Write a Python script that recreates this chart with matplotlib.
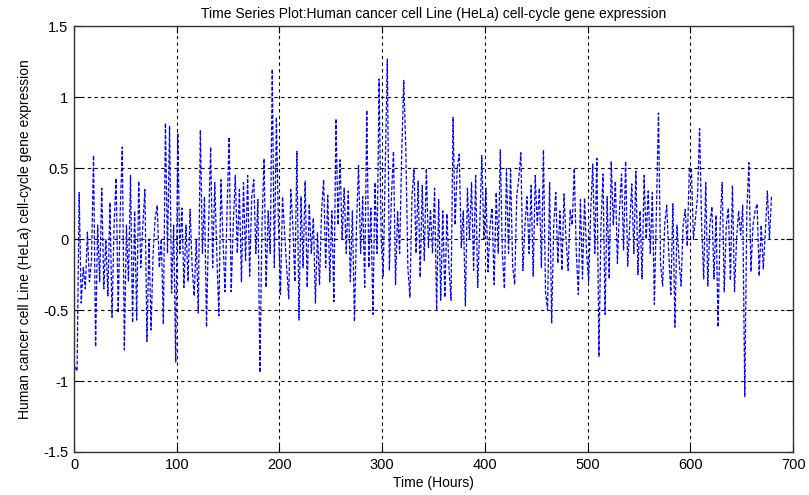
import matplotlib
matplotlib.use("Agg")
import matplotlib.pyplot as plt
from matplotlib.ticker import FuncFormatter

plt.rcParams["font.family"] = ["Liberation Sans", "DejaVu Sans"]

# sampled every 2 hours, starting at hour 1
start_hour = 1
step_hours = 2
expression = [
    -0.9, -0.93, 0.33, -0.45, -0.2, -0.35, 0.05, -0.3, -0.15, 0.59,
    -0.76, 0.1, -0.3, 0.36, -0.35, 0.0, -0.4, 0.26, -0.55, 0.1,
    0.43, -0.52, 0.2, 0.65, -0.78, 0.1, -0.3, 0.45, -0.59, 0.2,
    -0.57, 0.41, -0.2, 0.1, 0.35, -0.72, 0.0, -0.64, -0.1, 0.15,
    0.24, -0.2, 0.0, -0.6, 0.82, -0.1, 0.80, -0.38, 0.1, -0.87,
    0.75, -0.1, 0.22, -0.34, 0.1, -0.3, 0.21, -0.2, -0.4, 0.0,
    -0.52, 0.77, -0.1, 0.3, -0.62, 0.1, 0.65, -0.2, 0.4, -0.1,
    -0.54, 0.42, 0.0, -0.37, 0.2, 0.72, -0.37, 0.1, 0.45, -0.1,
    0.35, -0.3, 0.4, -0.15, 0.45, -0.26, 0.3, 0.42, -0.1, 0.28,
    -0.94, 0.1, 0.57, -0.34, 0.2, -0.1, 1.20, -0.2, 0.86, 0.1,
    -0.39, 0.3, 0.05, -0.2, -0.42, 0.35, 0.1, -0.3, 0.62, -0.57,
    0.3, -0.2, 0.41, -0.34, 0.25, -0.1, 0.15, -0.45, 0.05, -0.32,
    0.2, 0.42, -0.2, 0.31, -0.30, 0.2, -0.44, 0.85, 0.1, 0.56,
    0.0, 0.36, -0.1, 0.34, -0.30, 0.2, -0.58, 0.1, 0.52, -0.1,
    0.3, -0.34, 0.91, -0.2, 0.22, -0.53, 0.4, -0.1, 1.13, 0.0,
    -0.26, 0.5, 1.27, -0.22, 0.3, 0.62, -0.32, 0.2, -0.1, 0.6,
    1.12, 0.64, -0.2, -0.41, 0.3, 0.5, -0.1, 0.41, -0.27, 0.38,
    -0.15, 0.5, -0.06, 0.21, -0.1, 0.36, -0.5, 0.28, -0.43, 0.2,
    -0.41, 0.18, -0.2, -0.43, 0.86, 0.1, 0.5, 0.6, -0.06, 0.2,
    -0.47, 0.36, 0.0, 0.40, -0.22, 0.45, -0.34, 0.1, 0.59, 0.0,
    0.36, -0.23, 0.1, 0.22, -0.32, 0.33, -0.1, 0.63, -0.1, -0.35,
    0.5, -0.1, 0.49, -0.19, -0.32, 0.3, 0.43, 0.61, -0.22, 0.1,
    0.3, -0.1, 0.38, -0.26, 0.45, 0.1, 0.36, -0.2, 0.63, -0.37,
    -0.5, 0.40, -0.59, 0.1, 0.33, -0.17, 0.2, -0.22, 0.32, 0.0,
    -0.22, 0.21, 0.1, 0.5, -0.1, -0.39, 0.28, -0.28, 0.29, -0.1,
    -0.3, 0.2, 0.53, -0.1, 0.57, -0.83, 0.1, 0.46, -0.53, 0.3,
    -0.28, 0.55, 0.1, 0.41, -0.17, 0.2, 0.46, -0.08, 0.55, -0.19,
    0.1, 0.39, -0.1, 0.48, -0.25, 0.2, -0.28, 0.45, 0.0, 0.34,
    -0.1, 0.33, -0.46, 0.2, 0.89, -0.17, -0.33, 0.1, 0.24, -0.1,
    -0.39, 0.25, -0.62, 0.1, -0.15, -0.33, 0.1, 0.21, -0.05, 0.5,
    0.5, 0.0, 0.15, 0.3, 0.78, 0.1, -0.28, 0.40, -0.33, 0.1,
    0.23, -0.28, 0.17, -0.62, 0.1, 0.40, -0.37, 0.1, 0.22, -0.29,
    0.38, -0.37, 0.0, 0.2, 0.03, 0.24, -1.11, 0.2, 0.54, -0.23,
    0.1, 0.2, 0.25, -0.26, 0.1, -0.21, 0.05, 0.34, 0.0, 0.3,
]
hours = [start_hour + step_hours * i for i in range(len(expression))]

x_ticks = [0, 100, 200, 300, 400, 500, 600, 700]
y_ticks = [-1.5, -1, -0.5, 0, 0.5, 1, 1.5]

title = "Time Series Plot:Human cancer cell Line (HeLa) cell-cycle gene expression"
xlabel = "Time (Hours)"
ylabel = "Human cancer cell Line (HeLa) cell-cycle gene expression"

fig = plt.figure(figsize=(8.09, 4.95), dpi=100)
ax = fig.add_axes([0.0915, 0.0869, 0.8888, 0.8596])

ax.plot(hours, expression, color="#0000ff", linewidth=0.9, linestyle=(0, (3, 1.5)))

ax.set_xlim(0, 700)
ax.set_ylim(-1.5, 1.5)
ax.set_xticks(x_ticks)
ax.set_yticks(y_ticks)
ax.yaxis.set_major_formatter(FuncFormatter(lambda v, p: f"{v:g}"))

ax.grid(True, color="black", linestyle=(0, (3, 3)), linewidth=0.8)
ax.tick_params(direction="in", top=True, right=True, length=5, labelsize=10.5, pad=4)
for s in ax.spines.values():
    s.set_color("#333333")
    s.set_linewidth(1.0)

ax.set_title(title, fontsize=10, pad=6)
ax.set_xlabel(xlabel, fontsize=10, labelpad=3)
ax.set_ylabel(ylabel, fontsize=10, labelpad=8)

plt.savefig("out.png", dpi=100)
